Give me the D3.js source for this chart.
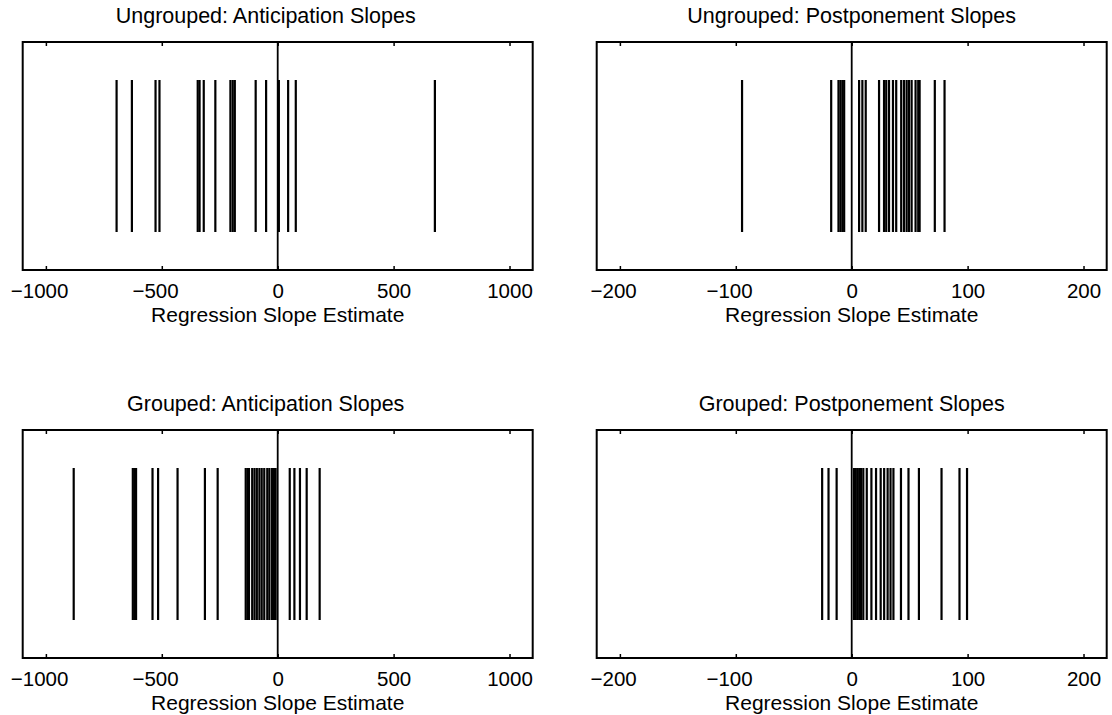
<!DOCTYPE html>
<html>
<head>
<meta charset="utf-8">
<script src="https://cdn.jsdelivr.net/npm/d3@7"></script>
<style>
  body { margin: 0; background: #fff; }
  text { font-family: "Liberation Sans", Arial, sans-serif; fill: #000; }
</style>
</head>
<body>
<svg id="chart" width="1112" height="715"></svg>
<script>
// slope estimates
var ungroupedAnticipation = [-695, -629, -527, -510, -345, -337, -319, -269, -204, -194, -185, -95, -50, 5, 45, 78, 678];
var ungroupedPostponement = [-94.6, -17.7, -11.4, -9.7, -8, -6.5, 6.4, 9.2, 12.1, 23.6, 27.9, 29.8, 32.2, 35.6, 38.4, 42.7, 45.1, 47.4, 49.4, 51.7, 55.1, 57.4, 58.6, 71.7, 80.1];
var groupedAnticipation = [-880, -625, -618, -611, -540, -516, -432, -314, -259, -138, -130, -124, -110, -100, -90, -79, -69, -58, -45, -36, -25, -16, -9, 52, 72, 96, 125, 181];
var groupedPostponement = [-25.5, -20, -13, 2, 3.5, 5, 6.5, 8, 10, 13, 17, 21, 25, 28, 31, 33.5, 36, 42.5, 49, 58, 77.5, 93, 99.5];

var titles = ["Ungrouped: Anticipation Slopes", "Ungrouped: Postponement Slopes",
              "Grouped: Anticipation Slopes", "Grouped: Postponement Slopes"];
var wideTicks = [-1000, -500, 0, 500, 1000];
var narrowTicks = [-200, -100, 0, 100, 200];
var wideDomain = [-1100, 1100];
var narrowDomain = [-220, 220];
var xLabel = "Regression Slope Estimate";

var svg = d3.select("#chart");
var w = 510, h = 228;
var tickFont = 20.5;

var panels = [
  { data: ungroupedAnticipation, title: titles[0], ticks: wideTicks, domain: wideDomain, x: 22.7, y: 42, tx: -12 },
  { data: ungroupedPostponement, title: titles[1], ticks: narrowTicks, domain: narrowDomain, x: 596.7, y: 42, tx: 0 },
  { data: groupedAnticipation, title: titles[2], ticks: wideTicks, domain: wideDomain, x: 22.7, y: 430, tx: -12 },
  { data: groupedPostponement, title: titles[3], ticks: narrowTicks, domain: narrowDomain, x: 596.7, y: 430, tx: 0 }
];

panels.forEach(function(p) {
  var g = svg.append("g").attr("transform", "translate(" + p.x + "," + p.y + ")");
  var x = d3.scaleLinear().domain(p.domain).range([0, w]);
  // y -0.25..1.25, lines go from 0 to 1
  var y = d3.scaleLinear().domain([-0.25, 1.25]).range([h, 0]);

  //刻度 bottom
  var bottom = d3.axisBottom(x).tickValues(p.ticks).tickFormat(d3.format("d"))
    .tickSizeInner(-4).tickSizeOuter(0).tickPadding(13);
  var ax = g.append("g").attr("transform", "translate(0," + h + ")").call(bottom);
  ax.select(".domain").remove();
  ax.selectAll("line").attr("stroke", "#000").attr("stroke-width", 1.5);
  // digits centred on the tick, minus sign hangs to the left
  ax.selectAll("text")
    .style("font-size", tickFont + "px")
    .attr("x", function(d) { return d < 0 ? -0.33 * tickFont : 0; });

  //刻度 top
  var top = d3.axisTop(x).tickValues(p.ticks).tickSizeInner(-4).tickSizeOuter(0).tickFormat("");
  var at = g.append("g").call(top);
  at.select(".domain").remove();
  at.selectAll("line").attr("stroke", "#000").attr("stroke-width", 1.5);

  // slope lines
  g.selectAll("line.slope")
    .data(p.data)
    .enter()
    .append("line")
    .attr("class", "slope")
    .attr("x1", function(d) { return x(d); })
    .attr("x2", function(d) { return x(d); })
    .attr("y1", y(0))
    .attr("y2", y(1))
    .attr("stroke", "#000")
    .attr("stroke-width", 2.2);

  // zero line
  g.append("line")
    .attr("x1", x(0)).attr("x2", x(0))
    .attr("y1", 0).attr("y2", h)
    .attr("stroke", "#000")
    .attr("stroke-width", 1.8);

  // box
  g.append("rect")
    .attr("width", w).attr("height", h)
    .attr("fill", "none")
    .attr("stroke", "#000")
    .attr("stroke-width", 2);

  g.append("text")
    .attr("x", w / 2 + p.tx).attr("y", -19)
    .attr("text-anchor", "middle")
    .style("font-size", "21.5px")
    .text(p.title);

  g.append("text")
    .attr("x", w / 2).attr("y", h + 52)
    .attr("text-anchor", "middle")
    .style("font-size", "21px")
    .text(xLabel);
});
</script>
</body>
</html>
